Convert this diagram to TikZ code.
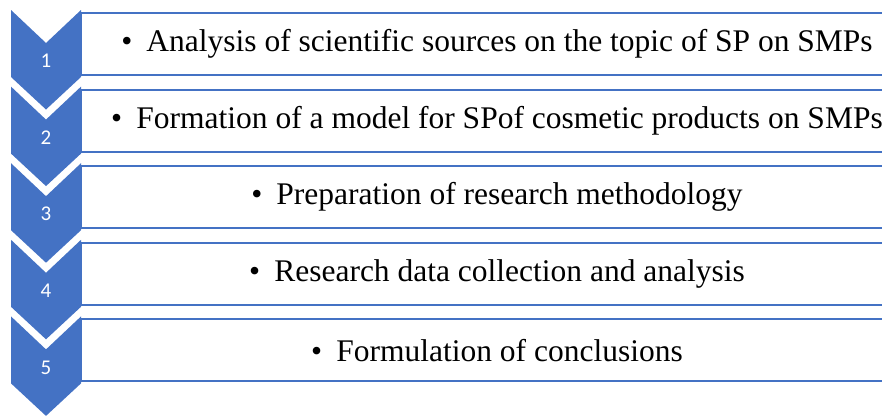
\documentclass[tikz,border=0pt]{standalone}
\usepackage{fontspec}
\setmainfont{Liberation Serif}
\newfontfamily\stepserif{Liberation Serif}
\newfontfamily\numfont{Carlito}
\definecolor{accblue}{HTML}{4472C4}
\begin{document}
\begin{tikzpicture}[x=1pt,y=-1pt,
  chev/.style={fill=accblue,draw=none},
  stepbox/.style={draw=accblue,line width=2pt,fill=white},
  numlabel/.style={text=white,font=\numfont\fontsize{21}{24}\selectfont,inner sep=0pt,anchor=center},
  steptext/.style={font=\stepserif\fontsize{31.5}{36}\selectfont,inner sep=0pt,anchor=center}]
\useasboundingbox (0,0) rectangle (882,415);
\clip (0,0) rectangle (882,415);
\foreach \k/\txt in {0/{Analysis of scientific sources on the topic of SP on SMPs},
                     1/{Formation of a model for SPof cosmetic products on SMPs},
                     2/{Preparation of research methodology},
                     3/{Research data collection and analysis},
                     4/{Formulation of conclusions}}{
  \pgfmathsetmacro{\T}{10+76.6*\k}
  \pgfmathtruncatemacro{\n}{\k+1}
  \draw[stepbox] (81,\T+3) rectangle (911,\T+65);
  \fill[chev] (11,\T) -- (46,\T+33) -- (81,\T) -- (81,\T+67) -- (46,\T+99.5) -- (11,\T+67) -- cycle;
  \node[numlabel] (num\n) at (46,\T+51) {\n};
  \node[steptext] (txt\n) at (497,\T+34) {\textbullet\hspace{0.45em}\txt};
}
\end{tikzpicture}
\end{document}
